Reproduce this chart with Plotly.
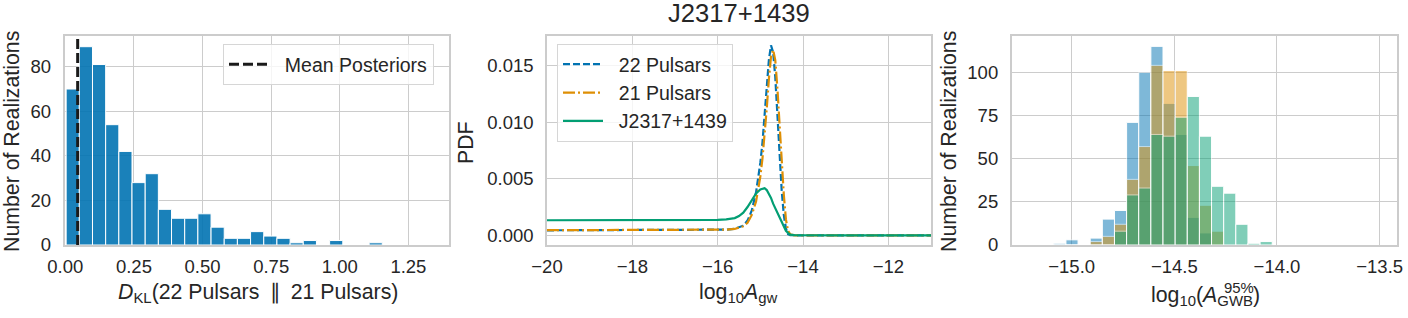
import plotly.graph_objects as go

# ---------------- data ----------------
# Panel 1: KL divergence histogram
dkl_bin_start = 0.003
dkl_bin_width = 0.048
dkl_counts = [70, 89, 81, 54, 42, 28, 32, 16, 12, 12, 14, 8, 3, 3, 6, 4, 3, 1, 2, 0, 2, 0, 0, 1]
mean_posterior_dkl = 0.045

# Panel 2: PDFs of log10 A_gw
pdf_x = [-20.0, -19.0, -18.0, -17.0, -16.5, -16.0, -15.8, -15.6, -15.5, -15.4, -15.3, -15.2,
         -15.1, -15.0, -14.95, -14.9, -14.85, -14.8, -14.75, -14.7, -14.65, -14.6, -14.55,
         -14.5, -14.45, -14.4, -14.35, -14.3, -14.2, -14.0, -13.0, -12.0, -11.0]
pdf_22 = [0.00044, 0.00044, 0.00044, 0.00044, 0.00045, 0.00046, 0.0005, 0.00058, 0.0007, 0.00085,
          0.0013, 0.0022, 0.0038, 0.0064, 0.0082, 0.0105, 0.0130, 0.0155, 0.0168, 0.0162, 0.0140,
          0.0105, 0.0070, 0.0040, 0.0018, 0.0006, 0.0001, 0.00002, 0.0, 0.0, 0.0, 0.0, 0.0]
pdf_21 = [0.00045, 0.00045, 0.00045, 0.00045, 0.00046, 0.00047, 0.0005, 0.00056, 0.00065, 0.0008,
          0.0011, 0.0018, 0.0030, 0.0052, 0.0068, 0.0088, 0.0112, 0.0138, 0.0158, 0.0164, 0.0155,
          0.0130, 0.0098, 0.0068, 0.0036, 0.0014, 0.0004, 0.00008, 0.0, 0.0, 0.0, 0.0, 0.0]
pdf_psr = [0.00133, 0.00133, 0.00133, 0.00133, 0.00134, 0.00136, 0.0014, 0.00152, 0.0017, 0.0020,
           0.0025, 0.0031, 0.0037, 0.00405, 0.0041, 0.00416, 0.0040, 0.0037, 0.0033, 0.0028, 0.0024,
           0.0020, 0.0016, 0.0011, 0.0007, 0.0004, 0.0002, 0.00005, 0.00001, 0.0, 0.0, 0.0, 0.0]
pulsar_name = "J2317+1439"
series_names = ["22 Pulsars", "21 Pulsars", pulsar_name]

# Panel 3: histograms of log10 A95
a95_bin_start = -15.087
a95_bin_width = 0.0591
a95_counts_22 = [1, 3, 0, 4, 15, 20, 71, 100, 115, 82, 64, 16, 7, 0, 0, 0, 0, 0]
a95_counts_21 = [0, 0, 0, 2, 5, 12, 38, 57, 104, 101, 101, 46, 23, 8, 0, 0, 0, 0]
a95_counts_psr = [0, 0, 0, 0, 0, 8, 29, 33, 64, 63, 74, 86, 63, 34, 30, 12, 1, 2]

# ---------------- style ----------------
W, H = 1408, 318
BLUE, ORANGE, GREEN = "#0173b2", "#de8f05", "#029e73"
TXT = "#262626"
FONT = "Liberation Sans, Arial, sans-serif"
TICK_SIZE = 18.5
LABEL_SIZE = 21.3
GRID = "#cccccc"
NB = "\u00a0"

def fx(p):
    return p / W

def fy(p):
    return 1 - p / H

y_dom = [fy(245), fy(36)]
dom1 = [fx(64.5), fx(449)]
dom2 = [fx(547), fx(931)]
dom3 = [fx(1011.7), fx(1396.7)]

fig = go.Figure()

# Panel 1
dkl_centers = [dkl_bin_start + dkl_bin_width * (i + 0.5) for i in range(len(dkl_counts))]
fig.add_trace(go.Bar(x=dkl_centers, y=dkl_counts, width=dkl_bin_width,
                     marker=dict(color="rgba(1,115,178,0.9)", line=dict(color="white", width=1)),
                     showlegend=False, xaxis="x", yaxis="y"))
dkl_yrange = [0, 93.8]
fig.add_trace(go.Scatter(x=[mean_posterior_dkl, mean_posterior_dkl], y=dkl_yrange, mode="lines",
                         line=dict(color="#1a1a1a", width=3, dash="10px,4px"),
                         name=NB * 2 + "Mean Posteriors", legend="legend", xaxis="x", yaxis="y"))

# Panel 2
styles = [dict(color=BLUE, width=2.2, dash="7px,3px"),
          dict(color=ORANGE, width=2.2, dash="12px,3px,2px,3px"),
          dict(color=GREEN, width=2.2)]
for i, (ys, nm) in enumerate(zip([pdf_22, pdf_21, pdf_psr], series_names)):
    fig.add_trace(go.Scatter(x=pdf_x, y=ys, mode="lines", line=styles[i], name=NB * 2 + nm,
                             legend="legend2", legendgroup=f"g{i}", xaxis="x2", yaxis="y2"))

# Panel 3
a95_centers = [a95_bin_start + a95_bin_width * (i + 0.5) for i in range(len(a95_counts_22))]
for cnts, col in zip([a95_counts_22, a95_counts_21, a95_counts_psr], [BLUE, ORANGE, GREEN]):
    fig.add_trace(go.Bar(x=a95_centers, y=cnts, width=a95_bin_width, opacity=0.5,
                         marker=dict(color=col, line=dict(color="white", width=1)),
                         showlegend=False, xaxis="x3", yaxis="y3"))

axis_common = dict(showline=True, mirror=True, linecolor=GRID, linewidth=1.6,
                   showgrid=True, gridcolor=GRID, gridwidth=1.1, zeroline=False, automargin=False,
                   ticks="", tickfont=dict(family=FONT, size=TICK_SIZE, color=TXT))

XSO, YSO = 4, 8
fig.update_layout(
    width=W, height=H, margin=dict(l=0, r=0, t=0, b=0, autoexpand=False),
    paper_bgcolor="white", plot_bgcolor="white",
    barmode="overlay",
    font=dict(family=FONT, color=TXT),
    xaxis=dict(domain=dom1, anchor="y", range=[-0.003, 1.398], tickvals=[0, 0.25, 0.5, 0.75, 1.0, 1.25],
               tickformat=".2f", ticklabelstandoff=XSO, **axis_common),
    yaxis=dict(domain=y_dom, anchor="x", range=dkl_yrange, tickvals=[0, 20, 40, 60, 80],
               ticklabelstandoff=YSO, **axis_common),
    xaxis2=dict(domain=dom2, anchor="y2", range=[-20, -11], tickvals=[-20, -18, -16, -14, -12],
                ticklabelstandoff=XSO, **axis_common),
    yaxis2=dict(domain=y_dom, anchor="x2", range=[-0.00086, 0.01763],
                tickvals=[0, 0.005, 0.01, 0.015], tickformat=".3f", ticklabelstandoff=YSO, **axis_common),
    xaxis3=dict(domain=dom3, anchor="y3", range=[-15.292, -13.417], tickvals=[-15, -14.5, -14, -13.5],
                tickformat=".1f", ticklabelstandoff=XSO, **axis_common),
    yaxis3=dict(domain=y_dom, anchor="x3", range=[0, 121], tickvals=[0, 25, 50, 75, 100],
                ticklabelstandoff=YSO, **axis_common),
    legend=dict(x=fx(223), y=fy(44), xanchor="left", yanchor="top", itemwidth=40,
                bgcolor="rgba(255,255,255,0.8)", bordercolor="#d6d6d6", borderwidth=1,
                font=dict(family=FONT, size=19.5, color=TXT)),
    legend2=dict(x=fx(557), y=fy(44), xanchor="left", yanchor="top", itemwidth=40,
                 bgcolor="rgba(255,255,255,0.8)", bordercolor="#d6d6d6", borderwidth=1,
                 tracegroupgap=0, traceorder="grouped",
                 font=dict(family=FONT, size=19.5, color=TXT)),
)

ann = dict(xref="paper", yref="paper", showarrow=False, font=dict(family=FONT, size=LABEL_SIZE, color=TXT))
fig.add_annotation(x=fx(258), y=fy(293), xanchor="center", yanchor="middle",
                   text="<i>D</i><sub>KL</sub>(22 Pulsars\u2009 ∥ \u200921 Pulsars)", **ann)
fig.add_annotation(x=fx(738), y=fy(293), xanchor="center", yanchor="middle",
                   text="log<sub>10</sub><i>A</i><sub>gw</sub>", **ann)
fig.add_annotation(x=fx(1205), y=fy(296), xanchor="center", yanchor="middle",
                   text="log<sub>10</sub>(<i>A</i><sub>GWB</sub>)", **ann)
fig.add_annotation(x=fx(1238.5), y=fy(287.5), xanchor="center", yanchor="middle",
                   text="95%", xref="paper", yref="paper", showarrow=False,
                   font=dict(family=FONT, size=14.9, color=TXT))
fig.add_annotation(x=fx(11.5), y=fy(141.5), xanchor="center", yanchor="middle", textangle=-90,
                   text="Number of Realizations", **ann)
fig.add_annotation(x=fx(466), y=fy(143), xanchor="center", yanchor="middle", textangle=-90,
                   text="PDF", **ann)
fig.add_annotation(x=fx(948.5), y=fy(141.5), xanchor="center", yanchor="middle", textangle=-90,
                   text="Number of Realizations", **ann)
fig.add_annotation(x=fx(739), y=fy(13), xanchor="center", yanchor="middle",
                   text=pulsar_name, xref="paper", yref="paper", showarrow=False,
                   font=dict(family=FONT, size=25.6, color=TXT))

fig.write_html("out.html", config={"displayModeBar": False},
               post_script="document.body.style.margin='0';document.body.style.padding='0';")
